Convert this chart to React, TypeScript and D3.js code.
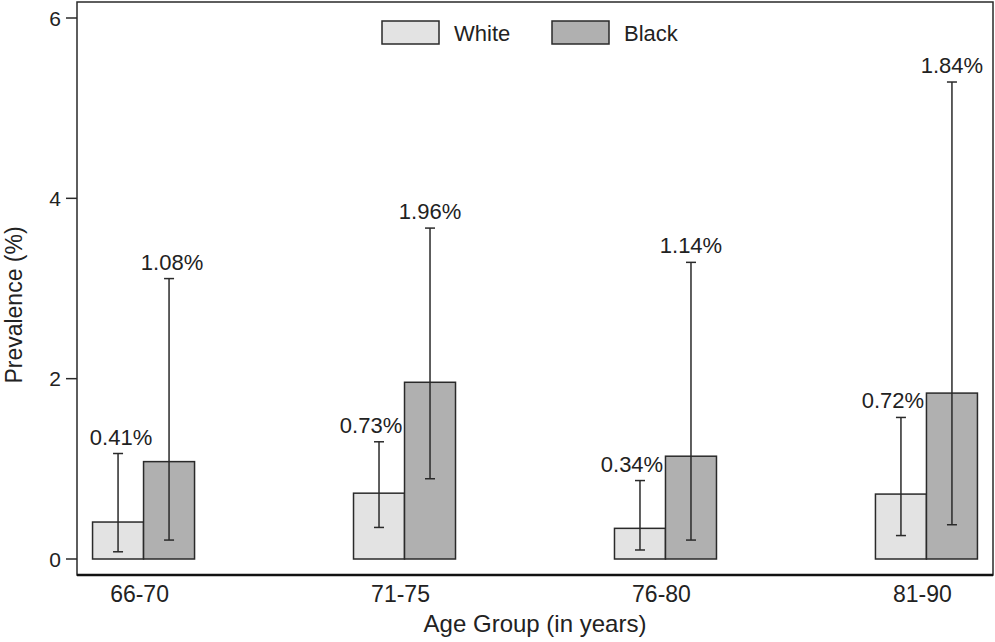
import * as d3 from "d3";

const W = 995;
const H = 642;

const GROUPS = ["66-70", "71-75", "76-80", "81-90"];
const SERIES = ["White", "Black"];
const WHITE = [0.41, 0.73, 0.34, 0.72];
const BLACK = [1.08, 1.96, 1.14, 1.84];
const WHITE_LO = [0.08, 0.35, 0.1, 0.26];
const WHITE_HI = [1.17, 1.3, 0.87, 1.57];
const BLACK_LO = [0.21, 0.89, 0.21, 0.38];
const BLACK_HI = [3.11, 3.67, 3.29, 5.29];
const Y_TICKS = [0, 2, 4, 6];

const FILLS = ["#e3e3e3", "#b0b0b0"];
const STROKE = "#2a2a2a";
const FONT = "Liberation Sans, Arial, sans-serif";

const FL = 77;
const FR = 993;
const FT = 2;
const FB = 575;
const BW = 51;

export default function App() {
  const x = d3.scalePoint<string>().domain(GROUPS).range([FL, FR]).padding(0.255);
  const y = d3.scaleLinear().domain([0, 6]).range([559, 18]);

  const series = [
    { name: SERIES[0], vals: WHITE, lo: WHITE_LO, hi: WHITE_HI, fill: FILLS[0], off: -BW, labelDx: -8 },
    { name: SERIES[1], vals: BLACK, lo: BLACK_LO, hi: BLACK_HI, fill: FILLS[1], off: 0, labelDx: 0 },
  ];

  return (
    <div style={{ position: "absolute", left: 0, top: 0 }}>
      <svg width={W} height={H} style={{ display: "block", fontFamily: FONT }}>
        <rect width={W} height={H} fill="#fff" />

        {/* frame */}
        <rect x={FL} y={FT} width={FR - FL} height={FB - FT} fill="none" stroke={STROKE} strokeWidth={1.5} />
        <line x1={FL} x2={FR} y1={FB} y2={FB} stroke="#111" strokeWidth={2.5} />

        {/* y axis */}
        {Y_TICKS.map((t) => (
          <g key={t}>
            <line x1={66} x2={FL} y1={y(t)} y2={y(t)} stroke={STROKE} strokeWidth={1.5} />
            <text x={61} y={y(t)} dy="0.36em" textAnchor="end" fontSize={21} fill="#222">
              {t}
            </text>
          </g>
        ))}
        <text
          transform={`translate(22,305) rotate(-90)`}
          textAnchor="middle"
          fontSize={23}
          fill="#222"
        >
          Prevalence (%)
        </text>

        {/* x axis labels */}
        {GROUPS.map((g) => (
          <text key={g} x={(x(g) ?? 0) - 4} y={602} textAnchor="middle" fontSize={23} fill="#222">
            {g}
          </text>
        ))}
        <text x={535} y={632} textAnchor="middle" fontSize={24} fill="#222">
          Age Group (in years)
        </text>

        {/* bars */}
        {series.map((s) =>
          GROUPS.map((g, i) => {
            const bx = (x(g) ?? 0) + s.off;
            return (
              <rect
                key={s.name + g}
                x={bx}
                y={y(s.vals[i])}
                width={BW}
                height={y(0) - y(s.vals[i])}
                fill={s.fill}
                stroke={STROKE}
                strokeWidth={1.5}
              />
            );
          }),
        )}

        {/* error bars and labels */}
        {series.map((s) =>
          GROUPS.map((g, i) => {
            const cx = (x(g) ?? 0) + s.off + BW / 2;
            const lo = y(s.lo[i]);
            const hi = y(s.hi[i]);
            return (
              <g key={"e" + s.name + g} stroke={STROKE} strokeWidth={1.5}>
                <line x1={cx} x2={cx} y1={lo} y2={hi} />
                <line x1={cx - 5} x2={cx + 5} y1={lo} y2={lo} />
                <line x1={cx - 5} x2={cx + 5} y1={hi} y2={hi} />
                <text
                  x={cx + (i > 0 ? s.labelDx : 3)}
                  y={hi - 9}
                  textAnchor="middle"
                  fontSize={22}
                  fill="#222"
                  stroke="none"
                >
                  {s.vals[i].toFixed(2)}%
                </text>
              </g>
            );
          }),
        )}

        {/* legend */}
        {series.map((s, i) => (
          <g key={"l" + s.name} transform={`translate(${382 + i * 170},21)`}>
            <rect width={57} height={23} fill={s.fill} stroke={STROKE} strokeWidth={1.5} />
            <text x={72} y={12} dy="0.36em" fontSize={22} fill="#222">
              {s.name}
            </text>
          </g>
        ))}
      </svg>
    </div>
  );
}
